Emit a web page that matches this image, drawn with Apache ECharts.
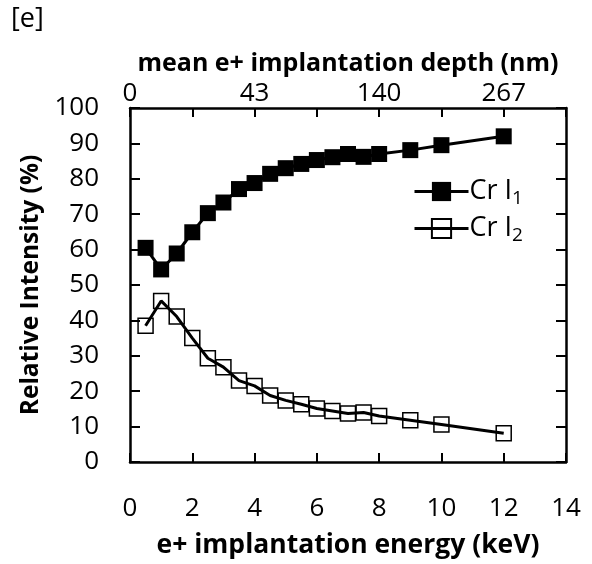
<!DOCTYPE html>
<html>
<head>
<meta charset="utf-8">
<script src="https://cdn.jsdelivr.net/npm/echarts@6/dist/echarts.min.js"></script>
<style>
html,body{margin:0;padding:0;background:#fff;}
#chart{width:592px;height:564px;}
</style>
</head>
<body>
<div id="chart"></div>
<script>
// Data
const energies = [0.5, 1, 1.5, 2, 2.5, 3, 3.5, 4, 4.5, 5, 5.5, 6, 6.5, 7, 7.5, 8, 9, 10, 12];
const crI1 = [60.5, 54.4, 58.9, 64.9, 70.3, 73.3, 77.1, 78.8, 81.4, 83.0, 84.2, 85.3, 86.1, 87.0, 86.2, 87.0, 88.1, 89.5, 92.0];
const crI2 = [38.5, 45.5, 41.1, 35.0, 29.3, 26.8, 23.0, 21.5, 18.8, 17.4, 16.3, 15.1, 14.4, 13.7, 14.0, 13.0, 11.8, 10.6, 8.1];
const seriesNames = ['Cr I1', 'Cr I2'];
const depthTickPositions = [0, 4, 8, 12];
const depthTickLabels = ['0', '43', '140', '267'];

const FONT = 'Open Sans';
const chart = echarts.init(document.getElementById('chart'), null, {renderer: 'canvas'});

const pairs = (ys) => energies.map((x, i) => [x, ys[i]]);

const option = {
  animation: false,
  backgroundColor: '#fff',
  textStyle: {fontFamily: FONT, color: '#000'},
  graphic: [{
    type: 'text', left: 11, top: 6,
    style: {text: '[e]', font: '27px "Open Sans"', fill: '#000'}
  }],
  grid: {left: 130, right: 26, top: 108, bottom: 101, containLabel: false},
  legend: {
    orient: 'vertical',
    left: 408, top: 173,
    itemWidth: 54, itemHeight: 24, itemGap: 7,
    data: seriesNames,
    lineStyle: {width: 3, color: '#000'},
    formatter: (n) => n.replace(/I(\d)$/, 'I{sub|$1}'),
    textStyle: {
      fontFamily: FONT, fontSize: 27, color: '#000', padding: [0, 0, 0, -4],
      rich: {sub: {fontFamily: FONT, fontSize: 19, verticalAlign: 'bottom', padding: [14, 0, 0, 0], color: '#000'}}
    }
  },
  xAxis: [{
    type: 'value', position: 'bottom', min: 0, max: 14, interval: 2,
    axisLine: {show: true, onZero: false, lineStyle: {color: '#000', width: 2.5}},
    axisTick: {show: true, inside: true, length: 9, lineStyle: {color: '#000', width: 2}},
    splitLine: {show: false},
    axisLabel: {fontFamily: FONT, fontSize: 26, color: '#000', margin: 34},
    name: 'e+ implantation energy (keV)', nameLocation: 'middle', nameGap: 70,
    nameTextStyle: {fontFamily: FONT, fontSize: 26.5, fontWeight: 'bold', color: '#000'}
  }, {
    type: 'value', position: 'top', min: 0, max: 14, interval: 2,
    axisLine: {show: true, onZero: false, lineStyle: {color: '#000', width: 2.5}},
    axisTick: {show: true, inside: true, length: 9, lineStyle: {color: '#000', width: 2}},
    splitLine: {show: false},
    axisLabel: {
      fontFamily: FONT, fontSize: 26, color: '#000', margin: 1,
      formatter: (v) => { const k = depthTickPositions.indexOf(v); return k >= 0 ? depthTickLabels[k] : ''; }
    },
    name: 'mean e+ implantation depth (nm)', nameLocation: 'middle', nameGap: 26,
    nameTextStyle: {fontFamily: FONT, fontSize: 25, fontWeight: 'bold', color: '#000'}
  }],
  yAxis: [{
    type: 'value', position: 'left', min: 0, max: 100, interval: 10,
    axisLine: {show: true, onZero: false, lineStyle: {color: '#000', width: 2.5}},
    axisTick: {show: true, inside: true, length: 10, lineStyle: {color: '#000', width: 2}},
    splitLine: {show: false},
    axisLabel: {fontFamily: FONT, fontSize: 26, color: '#000', margin: 31},
    name: 'Relative Intensity (%)', nameLocation: 'middle', nameGap: 82, nameRotate: 90,
    nameTextStyle: {fontFamily: FONT, fontSize: 24.5, fontWeight: 'bold', color: '#000'}
  }, {
    type: 'value', position: 'right', min: 0, max: 100, interval: 10,
    axisLine: {show: true, onZero: false, lineStyle: {color: '#000', width: 2.5}},
    axisTick: {show: true, inside: true, length: 10, lineStyle: {color: '#000', width: 2}},
    splitLine: {show: false},
    axisLabel: {show: false}
  }],
  series: [{
    name: seriesNames[0], type: 'line', xAxisIndex: 0, yAxisIndex: 0,
    data: pairs(crI1),
    symbol: 'rect', symbolSize: 16,
    itemStyle: {color: '#000', borderColor: '#000', borderWidth: 0},
    lineStyle: {color: '#000', width: 3}
  }, {
    name: seriesNames[1], type: 'line', xAxisIndex: 0, yAxisIndex: 0,
    data: pairs(crI2),
    symbol: 'rect', symbolSize: 15,
    itemStyle: {color: 'rgba(255,255,255,0)', borderColor: '#000', borderWidth: 1.5},
    lineStyle: {color: '#000', width: 3},
    z: 3
  }]
};
chart.setOption(option);
</script>
</body>
</html>
